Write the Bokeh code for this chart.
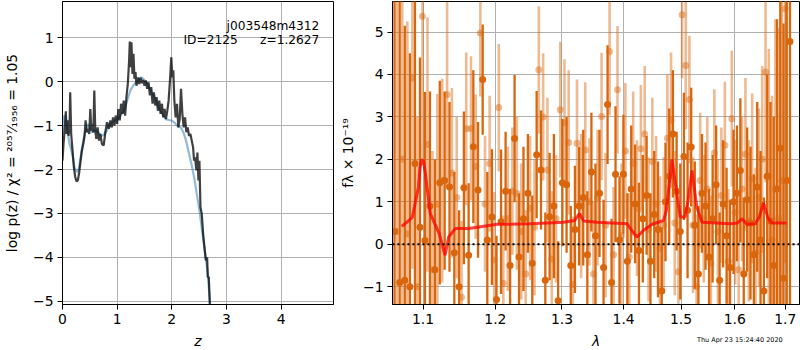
from bokeh.plotting import figure
from bokeh.layouts import row, column
from bokeh.models import Range1d, FixedTicker, Label, Span, PrintfTickFormatter, ColumnDataSource, Div
from bokeh.embed import file_html
from bokeh.resources import INLINE

FONT = "DejaVu Sans"
FS = "13.9px"

# ---------------- left panel: redshift probability ----------------
z_dark = [0.0, 0.018, 0.043, 0.061, 0.074, 0.092, 0.11, 0.129, 0.141, 0.159, 0.184, 0.208, 0.233,
          0.257, 0.282, 0.306, 0.331, 0.355, 0.38, 0.404, 0.423, 0.441, 0.466, 0.49, 0.509, 0.527,
          0.545, 0.564, 0.582, 0.60, 0.619, 0.643, 0.668, 0.692, 0.723, 0.754, 0.784, 0.815, 0.846,
          0.876, 0.901, 0.925, 0.95, 0.974, 0.999, 1.023, 1.048, 1.072, 1.097, 1.121, 1.146, 1.17,
          1.195, 1.219, 1.232, 1.25, 1.262, 1.281, 1.299, 1.317, 1.336, 1.354, 1.379, 1.403, 1.428,
          1.452, 1.477, 1.501, 1.526, 1.55, 1.575, 1.599, 1.624, 1.648, 1.673, 1.697, 1.722, 1.746,
          1.771, 1.795, 1.82, 1.844, 1.869, 1.893, 1.918, 1.942, 1.967, 1.991, 2.01, 2.028, 2.047,
          2.071, 2.096, 2.12, 2.145, 2.169, 2.194, 2.218, 2.243, 2.267, 2.292, 2.316, 2.341, 2.365,
          2.39, 2.408, 2.426, 2.451, 2.469, 2.488, 2.506, 2.525, 2.549, 2.574, 2.598, 2.623, 2.647,
          2.659, 2.678, 2.696]
logp_dark = [-1.8, -1.42, -1.04, -0.67, -1.19, -0.88, -1.23, -1.04, -0.24, -1.19, -1.57, -1.95, -2.17,
             -2.27, -2.24, -2.06, -1.80, -1.57, -1.42, -1.23, -0.88, -1.15, -1.07, -1.19, -0.62, -1.11,
             -0.96, -1.15, -0.2, -1.11, -1.30, -1.04, -1.34, -1.19, -1.42, -1.45, -1.15, -0.92, -1.07,
             -0.88, -1.04, -0.81, -1.0, -0.77, -0.96, -0.62, -0.88, -0.50, -0.73, -0.43, -0.77, -0.35,
             -0.05, 0.48, 0.92, 0.33, 0.90, 0.18, 0.64, 0.07, 0.22, -0.09, 0.10, -0.05, 0.09,
             -0.03, 0.04, -0.09, 0.03, -0.16, -0.01, -0.31, -0.12, -0.50, -0.24, -0.54, -0.35, -0.66,
             -0.43, -0.73, -0.50, -0.81, -0.62, -0.85, -0.66, -0.43, 0.03, 0.56, 0.10, 0.26, -0.43,
             -0.81, -0.50, -1.04, -0.85, -0.16, -0.73, -1.04, -0.81, -1.15, -1.04, -1.23, -1.19, -1.34,
             -1.49, -1.80, -1.72, -2.02, -1.61, -2.25, -1.80, -2.86, -3.01, -3.47, -3.77, -4.07, -4.0,
             -4.45, -4.45, -5.06]

z_smooth = [0.0, 0.03, 0.06, 0.098, 0.129, 0.159, 0.19, 0.22, 0.263, 0.30, 0.331, 0.368, 0.404,
            0.435, 0.466, 0.496, 0.539, 0.588, 0.631, 0.68, 0.723, 0.766, 0.815, 0.864, 0.913,
            0.962, 1.011, 1.06, 1.109, 1.146, 1.183, 1.219, 1.256, 1.293, 1.33, 1.366, 1.403,
            1.44, 1.477, 1.513, 1.55, 1.599, 1.648, 1.697, 1.746, 1.795, 1.844, 1.893, 1.942,
            1.991, 2.04, 2.102, 2.163, 2.212, 2.261, 2.31, 2.359, 2.408, 2.457, 2.506, 2.555,
            2.604, 2.653, 2.702]
logp_smooth = [-1.19, -0.77, -0.81, -1.19, -1.42, -1.53, -1.72, -1.95, -2.06, -1.98, -1.72, -1.42, -1.19,
               -1.07, -0.96, -1.04, -1.15, -1.11, -1.13, -1.19, -1.23, -1.19, -1.11, -0.97, -0.92,
               -0.88, -0.85, -0.77, -0.69, -0.58, -0.43, -0.28, -0.16, -0.09, -0.03, 0.01, 0.06,
               0.10, 0.07, 0.01, -0.05, -0.16, -0.28, -0.39, -0.54, -0.66, -0.77, -0.85, -0.87,
               -0.88, -0.92, -1.0, -1.04, -1.15, -1.34, -1.61, -1.87, -2.17, -2.55, -2.93, -3.39,
               -3.85, -4.30, -5.08]

z_ticks = [0, 1, 2, 3, 4]
logp_ticks = [-5, -4, -3, -2, -1, 0, 1]

# ---------------- right panel: 1D spectrum ----------------
wave_a = [1.063, 1.0696, 1.0762, 1.0828, 1.0894, 1.096, 1.1026, 1.1092, 1.1158, 1.1224,
          1.129, 1.1356, 1.1422, 1.1488, 1.1554, 1.162, 1.1686, 1.1752, 1.1818, 1.1884,
          1.195, 1.2016, 1.2082, 1.2148, 1.2214, 1.228, 1.2346, 1.2412, 1.2478, 1.2544,
          1.261, 1.2676, 1.2742, 1.2808, 1.2874, 1.294, 1.3006, 1.3072, 1.3138, 1.3204,
          1.327, 1.3336, 1.3402, 1.3468, 1.3534, 1.36, 1.3666, 1.3732, 1.3798, 1.3864,
          1.393, 1.3996, 1.4062, 1.4128, 1.4194, 1.426, 1.4326, 1.4392, 1.4458, 1.4524,
          1.459, 1.4656, 1.4722, 1.4788, 1.4854, 1.492, 1.4986, 1.5052, 1.5118, 1.5184,
          1.525, 1.5316, 1.5382, 1.5448, 1.5514, 1.558, 1.5646, 1.5712, 1.5778, 1.5844,
          1.591, 1.5976, 1.6042, 1.6108, 1.6174, 1.624, 1.6306, 1.6372, 1.6438, 1.6504,
          1.657, 1.6636, 1.6702, 1.6768, 1.6834, 1.69, 1.6966, 1.7032, 1.7098]
flux_a = [0.3, -0.9, -0.85, -1.0, 1.9, 0.4, 0.09, 0.9, -0.6, 1.45,
          1.5, 1.35, -0.2, -1.0, 1.33, -0.26, 2.3, 1.28, 3.88, 0.1,
          0.64, -1.3, 0.53, 1.25, -0.5, 2.49, -0.3, 0.6, 1.2, -0.45,
          2.11, 1.75, -0.85, 0.65, 0.9, -1.33, 1.45, 1.4, -0.5, 0.35,
          0.9, 1.1, -0.25, 1.7, 0.2, 1.2, -0.55, 3.29, -0.9, 1.65,
          0.1, 1.65, -0.4, 1.3, 0.95, -0.15, 0.6, 1.15, -0.4, 0.7,
          0.35, -1.1, 1.0, 1.6, 2.6, 1.25, 0.3, 2.07, 0.8, 2.29,
          0.45, -0.7, 1.2, 0.9, -0.3, 0.6, 1.4, -0.85, 0.95, 0.2,
          -0.55, 1.0, 1.2, 1.74, -0.7, 1.05, 0.5, -0.25, 1.35, 0.1,
          -1.1, 1.6, 0.55, -0.5, 1.3, 2.26, -0.8, 1.5, 4.78]
err_a = [8, 7, 6, 5.5, 4.5, 4, 3.5, 2.7, 2.6, 2.4,
         2.1, 2.0, 1.9, 1.8, 1.8, 1.7, 1.8, 1.6, 1.3, 1.6,
         1.6, 1.5, 1.7, 1.4, 1.8, 1.5, 1.5, 1.7, 1.4, 1.6,
         1.5, 1.4, 1.6, 1.5, 1.7, 1.4, 1.5, 1.6, 1.4, 1.5,
         1.4, 1.6, 1.5, 1.4, 1.7, 1.5, 1.6, 1.4, 1.5, 1.6,
         1.5, 1.4, 1.6, 1.5, 1.4, 1.6, 1.5, 1.4, 1.6, 1.5,
         1.6, 1.5, 1.4, 1.6, 1.5, 1.4, 1.6, 1.5, 1.6, 1.4,
         1.5, 1.6, 1.4, 1.5, 1.6, 1.5, 1.4, 1.6, 1.5, 1.6,
         1.6, 1.7, 1.6, 1.7, 1.8, 1.7, 1.8, 1.9, 2.0, 2.1,
         2.2, 2.4, 2.8, 3.5, 4.0, 5.0, 6.0, 7.0, 7.0]

wave_b = [1.0663, 1.0729, 1.0795, 1.0861, 1.0927, 1.0993, 1.1059, 1.1125, 1.1191, 1.1257,
          1.1323, 1.1389, 1.1455, 1.1521, 1.1587, 1.1653, 1.1719, 1.1785, 1.1851, 1.1917,
          1.1983, 1.2049, 1.2115, 1.2181, 1.2247, 1.2313, 1.2379, 1.2445, 1.2511, 1.2577,
          1.2643, 1.2709, 1.2775, 1.2841, 1.2907, 1.2973, 1.3039, 1.3105, 1.3171, 1.3237,
          1.3303, 1.3369, 1.3435, 1.3501, 1.3567, 1.3633, 1.3699, 1.3765, 1.3831, 1.3897,
          1.3963, 1.4029, 1.4095, 1.4161, 1.4227, 1.4293, 1.4359, 1.4425, 1.4491, 1.4557,
          1.4623, 1.4689, 1.4755, 1.4821, 1.4887, 1.4953, 1.5019, 1.5085, 1.5151, 1.5217,
          1.5283, 1.5349, 1.5415, 1.5481, 1.5547, 1.5613, 1.5679, 1.5745, 1.5811, 1.5877,
          1.5943, 1.6009, 1.6075, 1.6141, 1.6207, 1.6273, 1.6339, 1.6405, 1.6471, 1.6537,
          1.6603, 1.6669, 1.6735, 1.6801, 1.6867, 1.6933, 1.6999]
flux_b = [0.3, 2.0, 0.25, 3.92, -1.0, 5.37, 2.35, -0.6, 0.94, 1.5,
          3.52, 1.68, 1.1, -1.25, 2.72, 2.73, 1.83, 4.98, 0.95, 1.9,
          -0.37, 3.22, -0.92, 0.6, 1.25, 1.2, 0.3, -0.7, 0.85, 0.4,
          4.11, 3.0, 1.75, -0.35, 0.6, 3.17, 2.86, 2.4, -0.95, 2.38,
          0.9, 2.22, 1.0, -0.7, 1.1, 3.01, 0.45, 4.54, -0.25, 3.64,
          0.2, 2.2, -0.3, 1.9, 0.85, 2.25, 2.6, 0.35, 1.95, 0.95,
          -0.1, 0.45, 2.5, 2.92, 0.5, -0.65, 5.41, 4.21, 3.41, 0.45,
          -1.0, 1.5, 0.6, 1.3, -0.45, 2.15, 0.3, 1.15, 2.33, -0.4,
          2.96, 0.75, -0.6, 1.3, 2.12, 0.55, 1.55, -0.2, 1.1, 2.0,
          4.06, 1.6, 0.1, 1.3, 0.6, 1.5, 5.55]
err_b = [8, 6, 5, 4.5, 4, 3.5, 3, 2.8, 2.6, 2.4,
         2.2, 2.0, 1.9, 1.8, 1.8, 1.7, 1.7, 1.5, 1.6, 1.6,
         1.6, 1.5, 1.6, 1.7, 1.5, 1.8, 1.6, 1.5, 1.7, 1.6,
         1.5, 1.5, 1.7, 1.6, 1.5, 1.6, 1.5, 1.7, 1.6, 1.5,
         1.7, 1.6, 1.5, 1.7, 1.6, 1.5, 1.7, 1.5, 1.6, 1.5,
         1.7, 1.6, 1.5, 1.7, 1.6, 1.5, 1.6, 1.7, 1.5, 1.6,
         1.7, 1.6, 1.5, 1.6, 1.7, 1.6, 1.5, 1.5, 1.5, 1.6,
         1.7, 1.6, 1.5, 1.7, 1.6, 1.5, 1.7, 1.6, 1.5, 1.7,
         1.6, 1.7, 1.8, 1.7, 1.8, 1.9, 2.0, 2.0, 2.1, 2.2,
         2.6, 3.0, 3.4, 4.0, 4.5, 5.0, 6.0]

model_wave = [1.0722, 1.0816, 1.0860, 1.0940, 1.0960, 1.0982, 1.1005, 1.1026, 1.1097, 1.1216,
              1.1296, 1.1344, 1.1437, 1.1622, 1.2028, 1.2517, 1.3025, 1.3199, 1.3277, 1.3342,
              1.3557, 1.4059, 1.4134, 1.4229, 1.4339, 1.4488, 1.4689, 1.4737, 1.4836, 1.4907,
              1.4986, 1.5073, 1.5127, 1.5199, 1.5286, 1.5382, 1.5915, 1.6048, 1.6140, 1.6233,
              1.6398, 1.6480, 1.6562, 1.6646, 1.6723, 1.7026]
model_flux = [0.42, 0.56, 0.64, 1.35, 1.8, 2.0, 1.95, 1.74, 0.72, 0.25,
              -0.26, 0.17, 0.37, 0.37, 0.47, 0.48, 0.52, 0.56, 0.72, 0.55,
              0.52, 0.48, 0.33, 0.17, 0.33, 0.47, 0.56, 0.8, 2.0, 1.35,
              0.64, 0.64, 1.03, 1.74, 0.88, 0.52, 0.48, 0.5, 0.6, 0.47,
              0.48, 0.64, 0.98, 0.64, 0.5, 0.5]

wave_ticks = [1.1, 1.2, 1.3, 1.4, 1.5, 1.6, 1.7]
flux_ticks = [-1, 0, 1, 2, 3, 4, 5]

timestamp = "Thu Apr 23 15:24:40 2020"

ORANGE = "#d9660c"


def minus_labels(ticks):
    return {t: (("\u2212" + str(abs(t))) if t < 0 else str(t)) for t in ticks}


def style(p):
    p.background_fill_color = "white"
    p.border_fill_color = "white"
    p.outline_line_color = "black"
    p.outline_line_width = 1
    p.outline_line_alpha = 1
    for ax in p.axis:
        ax.axis_line_color = "black"
        ax.major_tick_line_color = "black"
        ax.major_tick_out = 5
        ax.major_tick_in = 0
        ax.minor_tick_line_color = None
        ax.major_label_text_font = FONT
        ax.major_label_text_font_size = FS
        ax.major_label_text_color = "black"
        ax.major_label_standoff = 4
        ax.axis_label_text_font = FONT
        ax.axis_label_text_font_size = FS
        ax.axis_label_text_color = "black"
        ax.axis_label_text_font_style = "normal"
    for g in p.grid:
        g.grid_line_color = "#b0b0b0"
        g.grid_line_width = 1
        g.grid_line_alpha = 1


# ---------- left figure ----------
p1 = figure(frame_width=271, frame_height=303, min_border_left=62, min_border_right=2,
            min_border_top=1, min_border_bottom=46,
            x_range=Range1d(0, 4.96), y_range=Range1d(-5.075, 1.83),
            toolbar_location=None, output_backend="svg")
style(p1)
p1.xaxis.ticker = FixedTicker(ticks=z_ticks)
p1.xgrid.ticker = FixedTicker(ticks=z_ticks)
p1.yaxis.ticker = FixedTicker(ticks=logp_ticks)
p1.ygrid.ticker = FixedTicker(ticks=logp_ticks)
p1.yaxis.major_label_overrides = minus_labels(logp_ticks)
p1.xaxis.major_label_overrides = minus_labels(z_ticks)
p1.xaxis.axis_label = "z"
p1.xaxis.axis_label_text_font_style = "italic"
p1.xaxis.axis_label_standoff = 6
p1.yaxis.axis_label = "log p(z) / \u03c7\u00b2 = \u00b2\u2070\u2075\u2077\u2044\u2081\u2089\u2085\u2086 = 1.05"
p1.yaxis.axis_label_standoff = 10

p1.line(z_smooth, logp_smooth, line_color="#1f77b4", line_alpha=0.5, line_width=2.2)
p1.line(z_dark, logp_dark, line_color="black", line_alpha=0.75, line_width=2.2)

TS = "12.2px"
p1.add_layout(Label(x=4.70, y=1.28, text="j003548m4312", text_align="right",
                    text_baseline="alphabetic", text_font=FONT, text_font_size=TS,
                    text_color="black"))
p1.add_layout(Label(x=3.206, y=0.955, text="ID=2125", text_align="right",
                    text_baseline="alphabetic", text_font=FONT, text_font_size=TS,
                    text_color="black"))
p1.add_layout(Label(x=4.70, y=0.955, text="z=1.2627", text_align="right",
                    text_baseline="alphabetic", text_font=FONT, text_font_size=TS,
                    text_color="black"))

# ---------- right figure ----------
p2 = figure(frame_width=407, frame_height=303, min_border_left=57, min_border_right=1,
            min_border_top=1, min_border_bottom=46, x_axis_type="log",
            x_range=Range1d(1.0604, 1.7295), y_range=Range1d(-1.42, 5.72),
            toolbar_location=None, output_backend="svg")
style(p2)
p2.xaxis.ticker = FixedTicker(ticks=wave_ticks)
p2.xgrid.ticker = FixedTicker(ticks=wave_ticks)
p2.xaxis.formatter = PrintfTickFormatter(format="%.1f")
p2.yaxis.ticker = FixedTicker(ticks=flux_ticks)
p2.ygrid.ticker = FixedTicker(ticks=flux_ticks)
p2.yaxis.major_label_overrides = minus_labels(flux_ticks)
p2.xaxis.axis_label = "\u03bb"
p2.xaxis.axis_label_text_font_style = "italic"
p2.xaxis.axis_label_standoff = 6
p2.yaxis.axis_label = "f\u03bb \u00d7 10\u207b\u00b9\u2079"
p2.yaxis.axis_label_standoff = 4

src_b = ColumnDataSource(dict(x=wave_b, y=flux_b,
                              lo=[f - e for f, e in zip(flux_b, err_b)],
                              hi=[f + e for f, e in zip(flux_b, err_b)]))
src_a = ColumnDataSource(dict(x=wave_a, y=flux_a,
                              lo=[f - e for f, e in zip(flux_a, err_a)],
                              hi=[f + e for f, e in zip(flux_a, err_a)]))

p2.segment(x0="x", y0="lo", x1="x", y1="hi", source=src_b, line_color=ORANGE,
           line_alpha=0.45, line_width=2.6)
p2.scatter(x="x", y="y", source=src_b, size=7, fill_color=ORANGE, fill_alpha=0.45,
           line_color=None)
p2.segment(x0="x", y0="lo", x1="x", y1="hi", source=src_a, line_color=ORANGE,
           line_alpha=1.0, line_width=2.3)
p2.scatter(x="x", y="y", source=src_a, size=7, fill_color=ORANGE, fill_alpha=1.0,
           line_color=None)

p2.line(model_wave, model_flux, line_color="red", line_alpha=0.75, line_width=3)
p2.add_layout(Span(location=0, dimension="width", line_color="black", line_width=2,
                   line_dash="2 3"))

stamp = Div(text=timestamp, margin=(-15, 0, 0, 697), width=100, height=8,
            styles={"font-family": FONT, "font-size": "6.5px", "line-height": "8px",
                    "color": "black", "white-space": "nowrap"})

layout = column(row(p1, p2), stamp)
open("out.html", "w").write(file_html(layout, INLINE))
